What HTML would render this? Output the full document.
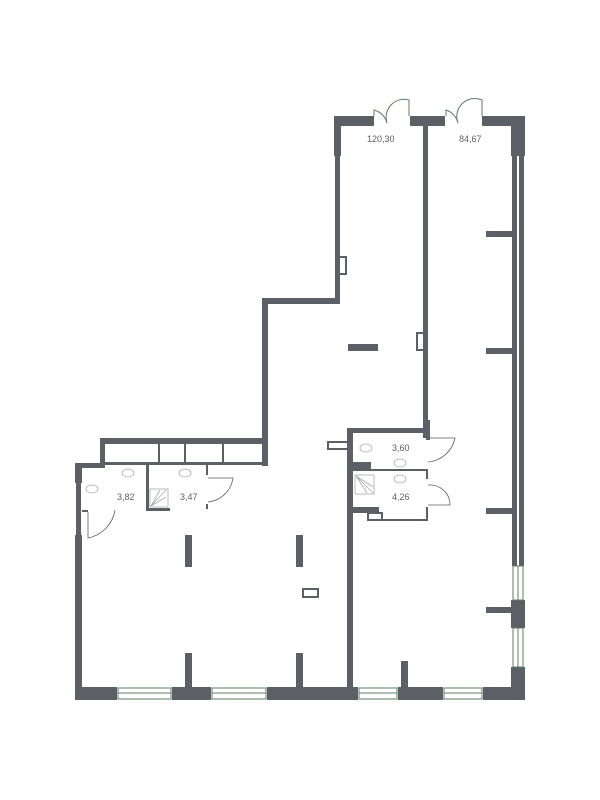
<!DOCTYPE html>
<html><head><meta charset="utf-8"><style>
html,body{margin:0;padding:0;background:#fff;width:600px;height:800px;overflow:hidden}
text{font-family:"Liberation Sans",sans-serif;font-size:9px;fill:#5c5f66}
</style></head><body>
<svg width="600" height="800" viewBox="0 0 600 800" xmlns="http://www.w3.org/2000/svg">
<g fill="#5c5f66">
<rect x="334" y="116" width="40" height="10"/>
<rect x="410" y="116" width="35" height="10"/>
<rect x="482" y="116" width="43" height="10"/>
<rect x="334" y="116" width="7" height="40"/>
<rect x="335" y="156" width="5" height="148"/>
<rect x="262" y="298" width="78" height="6"/>
<rect x="262" y="298" width="6" height="168"/>
<rect x="423" y="126" width="5" height="312"/>
<rect x="511" y="116" width="14" height="40"/>
<rect x="512" y="156" width="5" height="410"/>
<rect x="519" y="156" width="5" height="410"/>
<rect x="511" y="600" width="14" height="28"/>
<rect x="511" y="667" width="14" height="33"/>
<rect x="486" y="231" width="26" height="6"/>
<rect x="486" y="348" width="26" height="6"/>
<rect x="486" y="508" width="26" height="6"/>
<rect x="486" y="607" width="26" height="6"/>
<rect x="75" y="687" width="42" height="13"/>
<rect x="172" y="687" width="39" height="13"/>
<rect x="267" y="687" width="91" height="13"/>
<rect x="398" y="687" width="45" height="13"/>
<rect x="483" y="687" width="42" height="13"/>
<rect x="75" y="463" width="7" height="20"/>
<rect x="76" y="483" width="5" height="52"/>
<rect x="75" y="535" width="7" height="152"/>
<rect x="75" y="463" width="30" height="5"/>
<rect x="100" y="438" width="168" height="6"/>
<rect x="100" y="438" width="5" height="30"/>
<rect x="105" y="462" width="163" height="3"/>
<rect x="158" y="444" width="2" height="18"/>
<rect x="184" y="444" width="2" height="18"/>
<rect x="222" y="444" width="2" height="18"/>
<rect x="146" y="465" width="3" height="45"/>
<rect x="146" y="508" width="24" height="3"/>
<rect x="206" y="465" width="2" height="10"/>
<rect x="206" y="504" width="2" height="5"/>
<rect x="82" y="510" width="6" height="2"/>
<rect x="185" y="535" width="7" height="32"/>
<rect x="296" y="535" width="7" height="32"/>
<rect x="185" y="653" width="7" height="34"/>
<rect x="296" y="653" width="7" height="34"/>
<rect x="401" y="661" width="7" height="26"/>
<rect x="348" y="344" width="30" height="7"/>
<rect x="347" y="428" width="6" height="259"/>
<rect x="347" y="428" width="81" height="5"/>
<rect x="426" y="420" width="4" height="20"/>
<rect x="353" y="469" width="75" height="2"/>
<rect x="426" y="469" width="2" height="10"/>
<rect x="426" y="507" width="2" height="14"/>
<rect x="367" y="519" width="61" height="2"/>
<rect x="347" y="507" width="32" height="6"/>
<rect x="353" y="462" width="18" height="7"/>
</g>
<g fill="none" stroke="#5c5f66" stroke-width="2">
<rect x="303" y="589" width="15" height="8"/>
<rect x="417" y="333" width="7" height="17"/>
<rect x="337" y="257" width="9" height="17"/>
<rect x="328" y="442" width="20" height="7"/>
<rect x="368" y="513" width="14" height="7"/>
</g>
<g fill="none" stroke="#5a7f60" stroke-width="1">
<path d="M374 116 V110 A18 18 0 0 1 387 123"/>
<path d="M409 116 V100 A18 18 0 0 0 387 123"/>
<path d="M446 116 V110 A18 18 0 0 1 458 123"/>
<path d="M482 116 V100 A18 18 0 0 0 458 123"/>
</g>
<g fill="none" stroke="#5c5f66" stroke-width="0.8">
<path d="M88 512 V538 A34 34 0 0 0 115 510"/>
<path d="M208 478 H233 A28 28 0 0 1 208 502"/>
<path d="M428 438 H455 A30 30 0 0 1 428 462"/>
<path d="M428 485 A20 20 0 0 1 450 505 H428"/>
</g>
<g fill="none" stroke="#a9abb0" stroke-width="0.8">
<ellipse cx="128" cy="473" rx="6" ry="4"/>
<ellipse cx="185" cy="473" rx="6" ry="4"/>
<ellipse cx="92" cy="489" rx="6" ry="4"/>
<ellipse cx="366" cy="448" rx="6" ry="4"/>
<ellipse cx="400" cy="463" rx="6" ry="4"/>
<ellipse cx="400" cy="479" rx="6" ry="4"/>
<rect x="150" y="489" width="18" height="18"/>
<rect x="355" y="475" width="19" height="19"/>
<path d="M151 506 L166 490 M151 506 L160 490 M151 506 L166 497"/>
<path d="M356 476 L373 493 M356 476 L367 493 M356 476 L373 487"/>
</g>
<g fill="#fff" stroke="#5a7f60" stroke-width="1">
<rect x="118" y="688" width="53" height="11"/>
<rect x="212" y="688" width="54" height="11"/>
<rect x="359" y="688" width="38" height="11"/>
<rect x="444" y="688" width="38" height="11"/>
<rect x="513" y="566" width="10" height="34"/>
<rect x="513" y="628" width="10" height="39"/>
</g>
<g stroke="#5a7f60" stroke-width="1">
<line x1="118" y1="693" x2="171" y2="693"/><line x1="212" y1="693" x2="266" y2="693"/>
<line x1="359" y1="693" x2="397" y2="693"/><line x1="444" y1="693" x2="482" y2="693"/>
<line x1="518" y1="566" x2="518" y2="600"/><line x1="518" y1="628" x2="518" y2="667"/>
</g>
<text x="367" y="142">120,30</text>
<text x="459" y="142">84,67</text>
<text x="117" y="500">3,82</text>
<text x="180" y="500">3,47</text>
<text x="392" y="451">3,60</text>
<text x="392" y="500">4,26</text>
</svg>
</body></html>
